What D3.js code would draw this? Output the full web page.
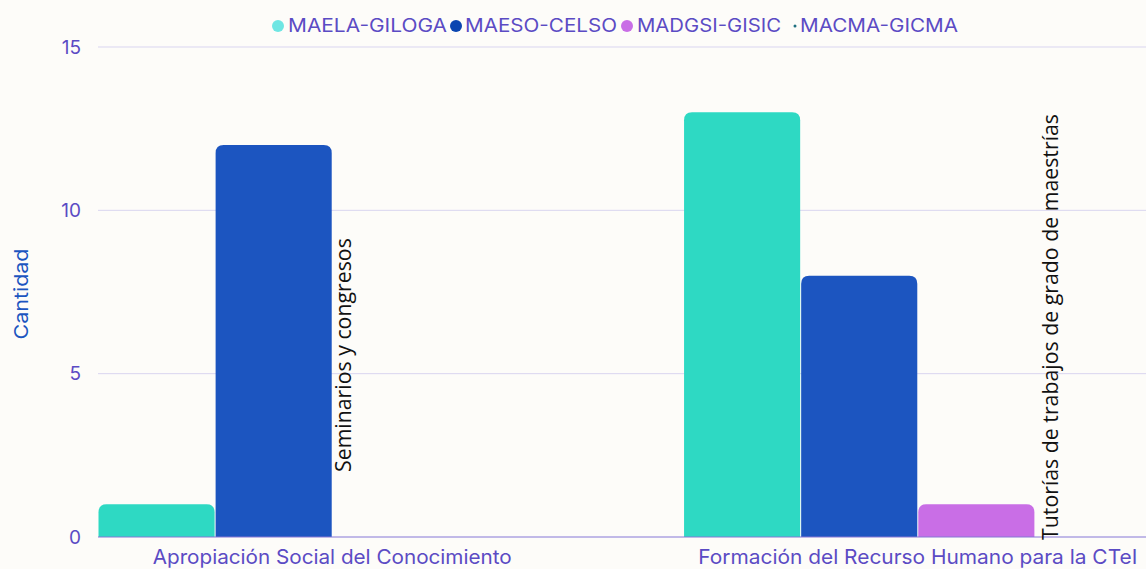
<!DOCTYPE html>
<html><head><meta charset="utf-8">
<script src="https://cdn.jsdelivr.net/npm/d3@7"></script>
<style>body{margin:0;background:#FDFCF9;}svg{display:block;}</style>
</head><body><svg id="c" width="1146" height="569"></svg>
<script>
const categories = ["Apropiación Social del Conocimiento", "Formación del Recurso Humano para la CTeI"];
const seriesNames = ["MAELA-GILOGA", "MAESO-CELSO", "MADGSI-GISIC", "MACMA-GICMA"];
const valuesMAELA = [1, 13];
const valuesMAESO = [12, 8];
const valuesMADGSI = [0, 1];
const valuesMACMA = [0, 0];
const barLabels = ["Seminarios y congresos", "Tutorías de trabajos de grado de maestrías"];
const yTicks = [0, 5, 10, 15];

(function () {
const seriesValues = [valuesMAELA, valuesMAESO, valuesMADGSI, valuesMACMA];
const colors = ["#2ED9C3", "#1C55C0", "#C96EE6", "#1F6F80"];
const legendColors = ["#6FE6E3", "#0A45B0", "#C96EE6", "#1F6F80"];
const FONT = "Inter, sans-serif";

const svg = d3.select("#c");
const mLeft = 98, mRight = 1152, mTop = 47, mBottom = 537;
const x0 = d3.scaleBand().domain(categories).range([mLeft, mRight]).paddingInner(0.2).paddingOuter(0);
const x1 = d3.scaleBand().domain(seriesNames).range([0, x0.bandwidth()]);
const y = d3.scaleLinear().domain([0, 15]).range([mBottom, mTop]);

svg.append("g").selectAll("line").data(yTicks.filter(d => d > 0)).join("line")
  .attr("x1", mLeft).attr("x2", 1146).attr("y1", d => y(d)).attr("y2", d => y(d))
  .attr("stroke", "#D9D5F0").attr("stroke-width", 1);

svg.append("g").selectAll("text").data(yTicks).join("text")
  .attr("x", 81).attr("y", d => y(d)).attr("dy", "0.35em").attr("text-anchor", "end")
  .attr("font-family", FONT).attr("font-size", 19).attr("fill", "#5B4BC4")
  .text(d => d);

svg.append("text").attr("transform", "translate(28,294) rotate(-90)")
  .attr("text-anchor", "middle").attr("font-family", FONT).attr("font-size", 19)
  .attr("textLength", 91).attr("lengthAdjust", "spacingAndGlyphs")
  .attr("fill", "#1C55C0").text("Cantidad");

const r = 8;
function barPath(x, w, yTop, yBot) {
  const h = yBot - yTop;
  if (h <= 0) return "";
  const rr = Math.min(r, h, w / 2);
  return `M${x},${yBot}V${yTop + rr}Q${x},${yTop} ${x + rr},${yTop}H${x + w - rr}Q${x + w},${yTop} ${x + w},${yTop + rr}V${yBot}Z`;
}
const g = svg.append("g");
categories.forEach((cat, ci) => {
  seriesNames.forEach((s, si) => {
    const v = seriesValues[si][ci];
    if (v > 0) {
      g.append("path")
        .attr("d", barPath(x0(cat) + x1(s) + 0.5, x1.bandwidth() - 1, y(v), y(0)))
        .attr("fill", colors[si]);
    }
  });
});

svg.append("line").attr("x1", mLeft).attr("x2", 1146).attr("y1", y(0)).attr("y2", y(0))
  .attr("stroke", "#8577D6").attr("stroke-width", 1);

const catLens = [359, 439];
svg.append("g").selectAll("text").data(categories).join("text")
  .attr("x", (d, i) => x0(d) + x0.bandwidth() / 2 - catLens[i] / 2).attr("y", 564)
  .attr("font-family", FONT).attr("font-size", 20).attr("fill", "#5B4BC4")
  .attr("textLength", (d, i) => catLens[i]).attr("lengthAdjust", "spacingAndGlyphs")
  .text(d => d);

const labelPos = [
  {cat: 0, s: 2, yStart: 472, off: 11},
  {cat: 1, s: 3, yStart: 540, off: 16}
];
labelPos.forEach((p, i) => {
  const cx = x0(categories[p.cat]) + x1(seriesNames[p.s]) + p.off;
  svg.append("text").attr("transform", `translate(${cx},${p.yStart}) rotate(-90)`)
    .attr("font-family", "'Open Sans', sans-serif").attr("font-size", 21.3).attr("fill", "#111")
    .attr("dy", "0.35em").text(barLabels[i]);
});

const lg = svg.append("g");
const legendText = [[288, 159], [465, 152], [637, 144], [800, 158]];
const dotX = [278, 456, 627, 795];
seriesNames.forEach((s, i) => {
  const rad = i === 3 ? 1.5 : 6;
  lg.append("circle").attr("cx", dotX[i]).attr("cy", 26).attr("r", rad).attr("fill", legendColors[i]);
  lg.append("text").attr("x", legendText[i][0]).attr("y", 26).attr("dy", "0.35em")
    .attr("font-family", FONT).attr("font-size", 18).attr("fill", "#5B4BC4")
    .attr("textLength", legendText[i][1]).attr("lengthAdjust", "spacingAndGlyphs")
    .text(s);
});
})();
</script></body></html>
